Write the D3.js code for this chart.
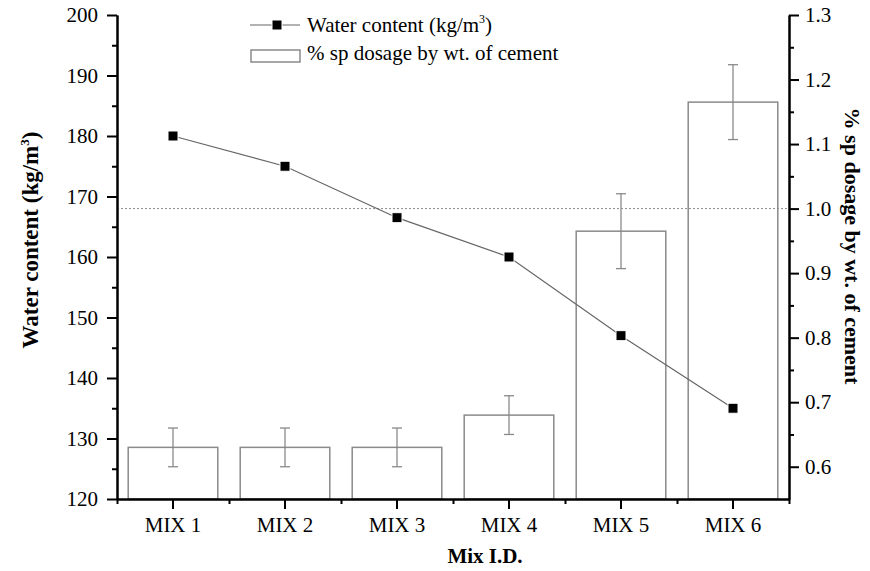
<!DOCTYPE html>
<html>
<head>
<meta charset="utf-8">
<script src="https://cdn.jsdelivr.net/npm/d3@7"></script>
<style>
  body { margin: 0; background: #fff; }
  svg text { font-family: "Liberation Serif", "Times New Roman", serif; fill: #000; }
</style>
</head>
<body>
<svg id="chart" width="870" height="571"></svg>
<script>
// data
var categories = ["MIX 1", "MIX 2", "MIX 3", "MIX 4", "MIX 5", "MIX 6"];
var waterContent = [180, 175, 166.5, 160, 147, 135];
var spDosage = [0.63, 0.63, 0.63, 0.68, 0.965, 1.165];
var spError = [0.03, 0.03, 0.03, 0.03, 0.058, 0.058];
var leftTicks = [120, 130, 140, 150, 160, 170, 180, 190, 200];
var leftMinor = [125, 135, 145, 155, 165, 175, 185, 195];
var rightTicks = [0.6, 0.7, 0.8, 0.9, 1.0, 1.1, 1.2, 1.3];
var rightMinor = [0.65, 0.75, 0.85, 0.95, 1.05, 1.15, 1.25];
var refLevel = 1.0;

//--------------------------------------
// Scales
//--------------------------------------

var plot = {left: 117, right: 789, top: 15, bottom: 499};
var svg = d3.select("#chart");

var x = d3.scaleBand().domain(categories).range([plot.left, plot.right]).padding(0);
var yL = d3.scaleLinear().domain([120, 200]).range([plot.bottom, plot.top]);
var yR = d3.scaleLinear().domain([0.55, 1.3]).range([plot.bottom, plot.top]);

var grey = "#8a8a8a";
var barW = x.bandwidth() * 0.8;

//--------------------------------------
// Reference line, bars, error bars
//--------------------------------------

svg.append("line")
  .attr("x1", plot.left).attr("x2", plot.right)
  .attr("y1", yR(refLevel)).attr("y2", yR(refLevel))
  .style("stroke", grey).style("stroke-width", 1)
  .style("stroke-dasharray", "2,2");

var bars = svg.append("g").selectAll("g")
  .data(categories)
  .enter().append("g");

bars.append("rect")
  .attr("x", function(d) { return x(d) + (x.bandwidth() - barW) / 2; })
  .attr("y", function(d, i) { return yR(spDosage[i]); })
  .attr("width", barW)
  .attr("height", function(d, i) { return plot.bottom - yR(spDosage[i]); })
  .style("fill", "none")
  .style("stroke", grey)
  .style("stroke-width", 1.5);

bars.each(function(d, i) {
  var g = d3.select(this);
  var cx = x(d) + x.bandwidth() / 2;
  var hi = yR(spDosage[i] + spError[i]), lo = yR(spDosage[i] - spError[i]);
  g.append("line").attr("x1", cx).attr("x2", cx).attr("y1", hi).attr("y2", lo);
  g.append("line").attr("x1", cx - 5).attr("x2", cx + 5).attr("y1", hi).attr("y2", hi);
  g.append("line").attr("x1", cx - 5).attr("x2", cx + 5).attr("y1", lo).attr("y2", lo);
  g.selectAll("line").style("stroke", grey).style("stroke-width", 1.3);
});

//--------------------------------------
// Water content line
//--------------------------------------

var line = d3.line()
  .x(function(d, i) { return x(categories[i]) + x.bandwidth() / 2; })
  .y(function(d) { return yL(d); });

svg.append("path")
  .datum(waterContent)
  .attr("d", line)
  .style("fill", "none")
  .style("stroke", "#666")
  .style("stroke-width", 1.2);

svg.append("g").selectAll("rect")
  .data(waterContent)
  .enter().append("rect")
  .attr("x", function(d, i) { return x(categories[i]) + x.bandwidth() / 2 - 5; })
  .attr("y", function(d) { return yL(d) - 5; })
  .attr("width", 10).attr("height", 10)
  .style("fill", "#000")
  .style("stroke", "#fff")
  .style("stroke-width", 1);

//--------------------------------------
// Axes
//--------------------------------------

function styleAxis(g, labels) {
  g.select(".domain").style("stroke", "#000").style("stroke-width", 2);
  g.selectAll(".tick line").style("stroke", "#000").style("stroke-width", 2);
  g.selectAll(".tick text").style("font-size", labels ? "21px" : "0px")
    .style("font-family", "'Liberation Serif', serif");
}

svg.append("g")
  .attr("transform", "translate(" + plot.left + ",0)")
  .call(d3.axisLeft(yL).tickValues(leftMinor).tickSize(5).tickSizeOuter(0).tickFormat(""))
  .call(styleAxis, false);
svg.append("g")
  .attr("transform", "translate(" + plot.left + ",0)")
  .call(d3.axisLeft(yL).tickValues(leftTicks).tickSize(10).tickSizeOuter(0).tickPadding(9).tickFormat(d3.format("d")))
  .call(styleAxis, true);

svg.append("g")
  .attr("transform", "translate(" + plot.right + ",0)")
  .call(d3.axisRight(yR).tickValues(rightMinor).tickSize(5).tickSizeOuter(0).tickFormat(""))
  .call(styleAxis, false);
svg.append("g")
  .attr("transform", "translate(" + plot.right + ",0)")
  .call(d3.axisRight(yR).tickValues(rightTicks).tickSize(10).tickSizeOuter(0).tickPadding(6).tickFormat(d3.format(".1f")))
  .call(styleAxis, true);

// bottom: minor ticks at band edges, major ticks at centres
var edges = d3.scaleLinear().domain([0, categories.length]).range([plot.left, plot.right]);
svg.append("g")
  .attr("transform", "translate(0," + plot.bottom + ")")
  .call(d3.axisBottom(edges).tickValues(d3.range(categories.length + 1)).tickSize(5).tickSizeOuter(0).tickFormat(""))
  .call(styleAxis, false);
svg.append("g")
  .attr("transform", "translate(0," + plot.bottom + ")")
  .call(d3.axisBottom(x).tickSize(10).tickSizeOuter(0).tickPadding(8))
  .call(styleAxis, true);

//--------------------------------------
// Titles
//--------------------------------------

svg.append("text")
  .attr("x", 485).attr("y", 563)
  .attr("text-anchor", "middle")
  .style("font-size", "21px").style("font-weight", "bold")
  .text("Mix I.D.");

var lt = svg.append("text")
  .attr("transform", "translate(38,240) rotate(-90)")
  .attr("text-anchor", "middle")
  .style("font-size", "23px").style("font-weight", "bold");
lt.append("tspan").text("Water content (kg/m");
lt.append("tspan").attr("dy", -9).style("font-size", "13px").text("3");
lt.append("tspan").attr("dy", 9).text(")");

svg.append("text")
  .attr("transform", "translate(845,246) rotate(90)")
  .attr("text-anchor", "middle")
  .style("font-size", "22px").style("font-weight", "bold")
  .text("% sp dosage by wt. of cement");

//--------------------------------------
// Legend
//--------------------------------------

var legend = svg.append("g");
legend.append("line")
  .attr("x1", 250).attr("x2", 300).attr("y1", 25).attr("y2", 25)
  .style("stroke", "#666").style("stroke-width", 1.2);
legend.append("rect")
  .attr("x", 272).attr("y", 20).attr("width", 10).attr("height", 10)
  .style("fill", "#000").style("stroke", "#fff").style("stroke-width", 1);
var t1 = legend.append("text").attr("x", 307).attr("y", 32).style("font-size", "21px");
t1.append("tspan").text("Water content (kg/m");
t1.append("tspan").attr("dy", -9).style("font-size", "12px").text("3");
t1.append("tspan").attr("dy", 9).text(")");

legend.append("rect")
  .attr("x", 251).attr("y", 50).attr("width", 49).attr("height", 12)
  .style("fill", "none").style("stroke", grey).style("stroke-width", 1.5);
legend.append("text").attr("x", 307).attr("y", 60).style("font-size", "21px")
  .text("% sp dosage by wt. of cement");
</script>
</body>
</html>
